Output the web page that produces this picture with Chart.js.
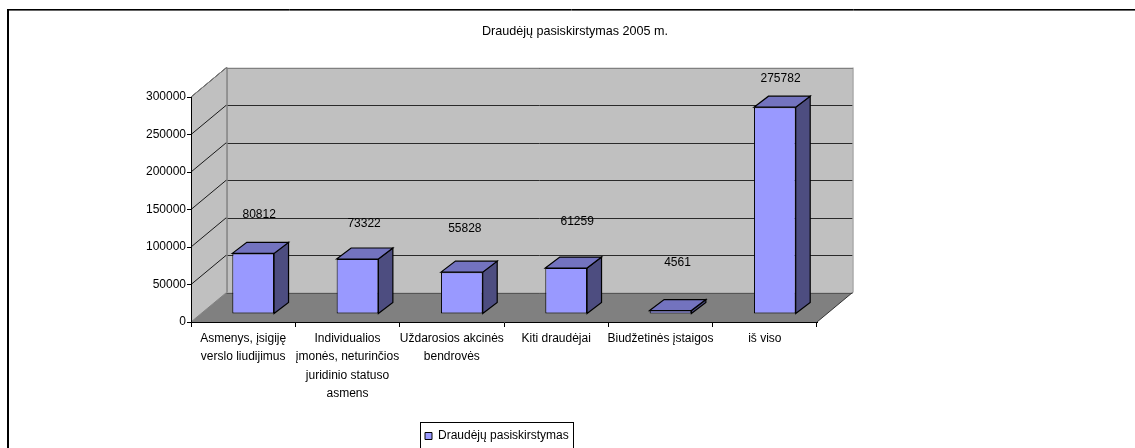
<!DOCTYPE html>
<html>
<head>
<meta charset="utf-8">
<style>html,body{margin:0;padding:0;background:#fff;overflow:hidden}canvas{display:block}</style>
<script src="https://cdn.jsdelivr.net/npm/chart.js@4/dist/chart.umd.js"></script>
</head>
<body>
<canvas id="c" width="1135" height="448"></canvas>
<script>
const categories = [
  ["Asmenys, įsigiję", "verslo liudijimus"],
  ["Individualios", "įmonės, neturinčios", "juridinio statuso", "asmens"],
  ["Uždarosios akcinės", "bendrovės"],
  ["Kiti draudėjai"],
  ["Biudžetinės įstaigos"],
  ["iš viso"]
];
const values = [80812, 73322, 55828, 61259, 4561, 275782];
const seriesName = "Draudėjų pasiskirstymas";
const chartTitle = "Draudėjų pasiskirstymas 2005 m.";
const yMax = 300000;
const yStep = 50000;

// styling and placement (not data)
const FONT = "'Liberation Sans', Arial, sans-serif";
const WALL = {dx: 35.5, dy: -29.5};
const BAR_SHIFT = {x: 10, y: -8};
const BAR_DEPTH = {dx: 14.5, dy: -11};
const labelShiftX = [16, 16.6, 13, 21, 17, 15.7];
const labelShiftY = [-47, -43, -51, -54.4, -55.6, -36];

function poly(ctx, pts, fill, stroke, lw) {
  ctx.beginPath();
  pts.forEach((p, i) => i ? ctx.lineTo(p[0], p[1]) : ctx.moveTo(p[0], p[1]));
  ctx.closePath();
  if (fill) { ctx.fillStyle = fill; ctx.fill(); }
  if (stroke) { ctx.strokeStyle = stroke; ctx.lineWidth = lw || 1; ctx.stroke(); }
}
function line(ctx, x1, y1, x2, y2, color, lw) {
  ctx.beginPath(); ctx.moveTo(x1, y1); ctx.lineTo(x2, y2);
  ctx.strokeStyle = color; ctx.lineWidth = lw || 1; ctx.stroke();
}

const scene = {
  id: "scene",
  afterLayout(chart) {
    const lg = chart.legend;
    lg.left = 420; lg.right = 573; lg.top = 425; lg.bottom = 447;
    chart.titleBlock.left = 15;
    chart.titleBlock.right = chart.width;
  },
  beforeDraw(chart) {
    const ctx = chart.ctx, xs = chart.scales.x, ys = chart.scales.y;
    const {dx, dy} = WALL;
    const L = xs.left, R = xs.right, B = ys.getPixelForValue(0), T = ys.getPixelForValue(yMax);
    ctx.save();
    // outer frame
    ctx.fillStyle = "#fff"; ctx.fillRect(0, 0, chart.width, chart.height);
    line(ctx, 8, 9.5, chart.width, 9.5, "#000", 1);
    line(ctx, 8, 10.5, chart.width, 10.5, "#666", 1);
    line(ctx, 8, 9, 8, chart.height, "#000", 2);
    // walls and floor
    poly(ctx, [[L, B], [L, T], [L + dx, T + dy], [L + dx, B + dy]], "#C0C0C0");
    poly(ctx, [[L + dx, T + dy], [R + dx, T + dy], [R + dx, B + dy], [L + dx, B + dy]], "#C0C0C0");
    poly(ctx, [[L, B], [R, B], [R + dx, B + dy], [L + dx, B + dy]], "#808080");
    // gridlines wrapping left wall and back wall
    ys.ticks.forEach(t => {
      const y = ys.getPixelForValue(t.value);
      if (t.value > 0) {
        line(ctx, L, y, L + dx, y + dy, "#1a1a1a", 1);
        line(ctx, L + dx, Math.round(y + dy) + .5, R + dx, Math.round(y + dy) + .5, "#2a2a2a", 1);
      }
    });
    // wall edges
    line(ctx, L, T, L + dx, T + dy, "#808080", 1);
    line(ctx, L + dx, Math.round(T + dy) + .5, R + dx, Math.round(T + dy) + .5, "#808080", 1);
    line(ctx, L + dx + .5, T + dy, L + dx + .5, B + dy, "#808080", 1.5);
    line(ctx, R + dx + .5, T + dy, R + dx + .5, B + dy, "#808080", 1);
    line(ctx, L, B, L + dx, B + dy, "#808080", 1);
    line(ctx, L + dx, Math.round(B + dy) + .5, R + dx, Math.round(B + dy) + .5, "#555", 1);
    line(ctx, R, B, R + dx, B + dy, "#333", 1);
    // legend box
    const lg = chart.legend;
    ctx.strokeStyle = "#000"; ctx.lineWidth = 1;
    ctx.strokeRect(lg.left + .5, 422.5, lg.right - lg.left, 40);
    ctx.restore();
  },
  beforeDatasetDraw(chart, args) {
    const ctx = chart.ctx;
    ctx.save();
    ctx.translate(BAR_SHIFT.x, BAR_SHIFT.y);
    const {dx, dy} = BAR_DEPTH;
    args.meta.data.forEach(el => {
      const {x, y, base, width} = el.getProps(["x", "y", "base", "width"], true);
      const l = x - width / 2, r = x + width / 2;
      poly(ctx, [[r, y], [r + dx, y + dy], [r + dx, base + dy], [r, base]], "#4D4D80", "#000", 1.2);
      poly(ctx, [[l, y], [l + dx, y + dy], [r + dx, y + dy], [r, y]], "#7373BF", "#000", 1.2);
    });
  },
  afterDatasetDraw(chart, args) {
    const ctx = chart.ctx;
    ctx.restore();
    ctx.save();
    ctx.font = "12px " + FONT;
    ctx.fillStyle = "#000";
    ctx.textAlign = "center";
    ctx.textBaseline = "middle";
    args.meta.data.forEach((el, i) => {
      const {x, y} = el.getProps(["x", "y"], true);
      ctx.fillText(String(values[i]), x + labelShiftX[i], y + labelShiftY[i]);
    });
    ctx.restore();
  }
};

new Chart(document.getElementById("c"), {
  type: "bar",
  data: {
    labels: categories,
    datasets: [{
      label: seriesName,
      data: values,
      backgroundColor: "#9999FF",
      borderColor: "#000",
      borderWidth: 1,
      borderSkipped: false,
      barPercentage: 0.4,
      categoryPercentage: 1,
      clip: false
    }]
  },
  options: {
    responsive: false,
    animation: false,
    events: [],
    layout: {padding: {left: 0, right: 318, top: 0, bottom: 0}},
    plugins: {
      tooltip: {enabled: false},
      title: {
        display: true,
        text: chartTitle,
        color: "#000",
        font: {family: FONT, size: 12.6, weight: "normal", lineHeight: 1.2},
        padding: {top: 24, bottom: 57.9},
        fullSize: true
      },
      legend: {
        display: true,
        position: "chartArea",
        align: "start",
        labels: {
          boxWidth: 7,
          boxHeight: 7,
          padding: 5,
          color: "#000",
          font: {family: FONT, size: 12}
        }
      }
    },
    scales: {
      x: {
        type: "category",
        afterFit(s) { s.height = 126; },
        grid: {drawOnChartArea: false, drawTicks: true, tickLength: 5, color: "#000"},
        border: {color: "#000", width: 1},
        ticks: {
          color: "#000",
          padding: 2,
          maxRotation: 0,
          minRotation: 0,
          autoSkip: false,
          font: {family: FONT, size: 12, lineHeight: 1.54}
        }
      },
      y: {
        min: 0,
        max: yMax,
        afterFit(s) { s.width = 191; },
        grid: {drawOnChartArea: false, drawTicks: true, tickLength: 4, color: "#000"},
        border: {color: "#000", width: 1},
        ticks: {
          stepSize: yStep,
          color: "#000",
          padding: 1,
          font: {family: FONT, size: 12},
          callback: v => String(v)
        }
      }
    }
  },
  plugins: [scene]
});
</script>
</body>
</html>
